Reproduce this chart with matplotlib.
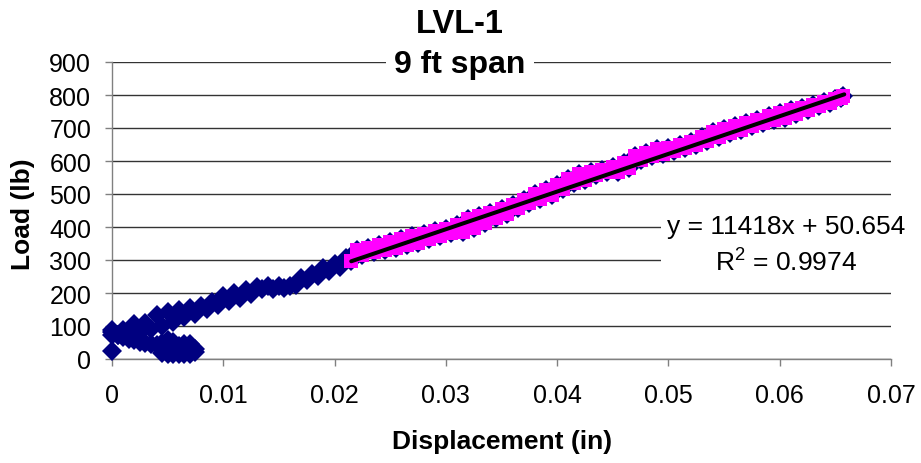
import matplotlib
matplotlib.use('Agg')
import matplotlib.pyplot as plt
import numpy as np

plt.rcParams['font.family'] = ['Liberation Sans', 'DejaVu Sans']
plt.rcParams['mathtext.fontset'] = 'custom'
plt.rcParams['mathtext.rm'] = 'Liberation Sans'
plt.rcParams['mathtext.it'] = 'Liberation Sans:italic'
plt.rcParams['mathtext.bf'] = 'Liberation Sans:bold'

# ---------------- data ----------------
# loading branch, readings along the upper side of the data band
disp_upper = [0.000, 0.001, 0.002, 0.003, 0.004, 0.005, 0.006, 0.007, 0.008, 0.009,
              0.010, 0.011, 0.012, 0.013, 0.014, 0.015, 0.016, 0.017, 0.018, 0.019,
              0.020, 0.021, 0.022, 0.023, 0.024, 0.025, 0.026, 0.027, 0.028, 0.029,
              0.030, 0.031, 0.032, 0.033, 0.034, 0.035, 0.036, 0.037, 0.038, 0.039,
              0.040, 0.041, 0.042, 0.043, 0.044, 0.045, 0.046, 0.047, 0.048, 0.049,
              0.050, 0.051, 0.052, 0.053, 0.054, 0.055, 0.056, 0.057, 0.058, 0.059,
              0.060, 0.061, 0.062, 0.063, 0.064, 0.065, 0.0657]
load_upper = [83, 89, 105, 108, 132, 141, 150, 155, 162, 174,
              192, 201, 208, 217, 220, 220, 220, 244, 259, 277,
              289, 305, 329, 335, 344, 356, 365, 374, 380, 388,
              395, 405, 424, 432, 442, 455, 468, 482, 500, 511,
              526, 545, 561, 568, 574, 582, 594, 615, 624, 635,
              638, 647, 659, 674, 688, 697, 707, 714, 724, 735,
              744, 755, 762, 771, 780, 788, 797]

# loading branch, readings along the lower side of the data band
disp_lower = [0.0005, 0.0015, 0.0025, 0.0035, 0.0045, 0.0055, 0.0065, 0.0075, 0.0085, 0.0095,
              0.0105, 0.0115, 0.0125, 0.0135, 0.0145, 0.0155, 0.0165, 0.0175, 0.0185, 0.0195,
              0.0205, 0.0215, 0.0225, 0.0235, 0.0245, 0.0255, 0.0265, 0.0275, 0.0285, 0.0295,
              0.0305, 0.0315, 0.0325, 0.0335, 0.0345, 0.0355, 0.0365, 0.0375, 0.0385, 0.0395,
              0.0405, 0.0415, 0.0425, 0.0435, 0.0445, 0.0455, 0.0465, 0.0475, 0.0485, 0.0495,
              0.0505, 0.0515, 0.0525, 0.0535, 0.0545, 0.0555, 0.0565, 0.0575, 0.0585, 0.0595,
              0.0605, 0.0615, 0.0625, 0.0635, 0.0645, 0.0655]
load_lower = [74, 77, 82, 92, 101, 112, 127, 135, 153, 165,
              177, 186, 198, 211, 211, 214, 223, 239, 253, 267,
              280, 298, 315, 323, 329, 336, 344, 353, 364, 373,
              382, 386, 398, 412, 426, 438, 458, 473, 486, 497,
              514, 532, 541, 559, 567, 568, 579, 602, 614, 620,
              630, 638, 647, 662, 674, 686, 695, 706, 715, 724,
              730, 742, 756, 767, 777, 791]

# early low-load readings (start of test, unloading branch and low cluster)
disp_early = [0.000, 0.000, 0.000, 0.0005, 0.0010, 0.0015, 0.0020, 0.0025, 0.0030, 0.0035,
              0.0040, 0.0045, 0.0045, 0.0045, 0.0050, 0.0050, 0.0050, 0.0050, 0.0055, 0.0055,
              0.0055, 0.0060, 0.0060, 0.0060, 0.0065, 0.0065, 0.0065, 0.0070, 0.0070, 0.0070,
              0.0075, 0.0075]
load_early = [24, 72, 88, 72, 66, 61, 57, 53, 49, 45,
              41, 50, 35, 18, 59, 42, 25, 14, 52, 35,
              14, 40, 25, 14, 45, 30, 14, 45, 30, 16,
              30, 20]

# linear trendline fitted over the upper part of the curve
fit_start = 0.0215
fit_end = 0.0658
slope = 11418
intercept = 50.654
r_squared = 0.9974

x_ticks = [0, 0.01, 0.02, 0.03, 0.04, 0.05, 0.06, 0.07]
x_tick_labels = ['0', '0.01', '0.02', '0.03', '0.04', '0.05', '0.06', '0.07']
y_ticks = [0, 100, 200, 300, 400, 500, 600, 700, 800, 900]

# ---------------- figure ----------------
W, H = 921, 464
fig = plt.figure(figsize=(W / 100, H / 100), dpi=100)
ax = fig.add_axes([112 / W, 1 - 360 / H, 779 / W, 297 / H])

disp_all = np.array(disp_early + disp_upper + disp_lower)
load_all = np.array(load_early + load_upper + load_lower)

navy = '#000080'
magenta = '#FF00FF'

ax.plot(disp_all, load_all, ls='none', marker='D', ms=10.2, color=navy,
        mec=navy, mew=0, clip_on=False, zorder=3)

sel = disp_all >= fit_start
ax.plot(disp_all[sel], load_all[sel], ls='none', marker='s', ms=9.4, color=magenta,
        mec=magenta, mew=0, clip_on=False, zorder=4)

fx = np.array([fit_start, fit_end])
ax.plot(fx, slope * fx + intercept, color='black', lw=2.9, zorder=5,
        solid_capstyle='round')

ax.set_xlim(0, 0.07)
ax.set_ylim(0, 900)
ax.set_xticks(x_ticks)
ax.set_xticklabels(x_tick_labels)
ax.set_yticks(y_ticks)
ax.set_yticklabels([str(v) for v in y_ticks])

ax.set_axisbelow(True)
ax.yaxis.grid(True, color='#333333', lw=1.0)
for s in ['top', 'right']:
    ax.spines[s].set_visible(False)
for s in ['left', 'bottom']:
    ax.spines[s].set_color('#808080')
    ax.spines[s].set_linewidth(1.0)

ax.tick_params(axis='both', direction='out', length=5, width=1, color='#808080',
               labelsize=18, labelcolor='black')
ax.tick_params(axis='y', pad=10)
ax.tick_params(axis='x', pad=12)

fig.text(502 / W, 1 - 442 / H, 'Displacement (in)', ha='center', va='center',
         fontsize=19, fontweight='bold')
fig.text(23 / W, 1 - 214 / H, 'Load (lb)', ha='center', va='center',
         rotation=90, fontsize=19, fontweight='bold')

fig.text(460 / W, 1 - 33 / H, 'LVL-1', ha='center', va='baseline',
         fontsize=23.5, fontweight='bold')
fig.text(460 / W, 1 - 73 / H, '9 ft span', ha='center', va='baseline',
         fontsize=23, fontweight='bold',
         bbox=dict(facecolor='white', edgecolor='none', pad=6))

eq_text = f'y = {slope}x + {intercept}\nR$^{{\\mathrm{{2}}}}$ = {r_squared}'
fig.text(786 / W, 1 - 246 / H, eq_text, ha='center', va='center',
         fontsize=19, multialignment='center', linespacing=1.45,
         bbox=dict(facecolor='white', edgecolor='none', pad=4), zorder=6)

fig.savefig('out.png', dpi=100)
